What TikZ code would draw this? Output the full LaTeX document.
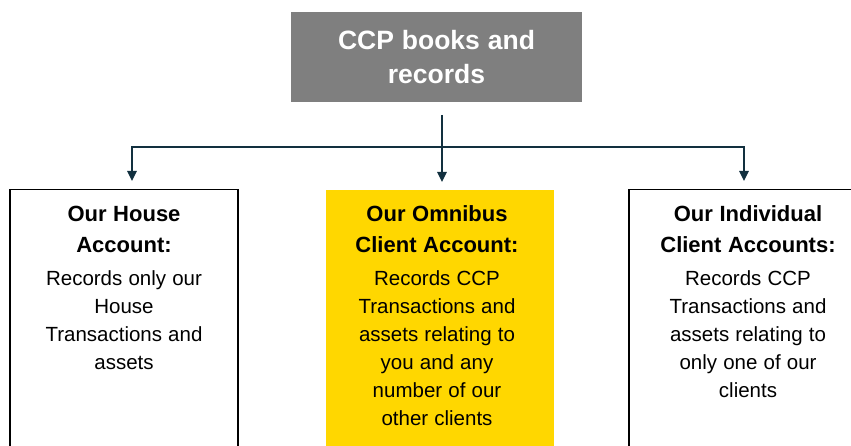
\documentclass[tikz,border=0pt]{standalone}
\usepackage{fontspec}
\setmainfont{Liberation Sans}
\usetikzlibrary{arrows.meta}
\definecolor{boxgray}{HTML}{7F7F7F}
\definecolor{omniyellow}{HTML}{FFD700}
\definecolor{linkteal}{HTML}{12303F}
\newcommand{\titlefont}{\bfseries\fontsize{26.5}{34}\selectfont\spaceskip=0.3em\relax}
\newcommand{\headfont}{\bfseries\fontsize{22}{31}\selectfont\spaceskip=0.3em\relax}
\newcommand{\bodyfont}{\fontsize{20.5}{28}\selectfont\spaceskip=0.3em\relax}
\begin{document}
\begin{tikzpicture}[x=1pt, y=-1pt,
    title/.style = {fill=boxgray, minimum width=291pt, minimum height=90pt, inner sep=0pt},
    acct/.style = {draw=black, line width=1.5pt, anchor=north, minimum width=228pt, minimum height=300pt, inner sep=0pt},
    acctext/.style = {anchor=base, text width=220pt, align=center, inner sep=0pt},
    link/.style = {draw=linkteal, line width=1.3pt, {Triangle[width=9.5pt,length=10pt]}-{Triangle[width=9.5pt,length=10pt]}},
    drop/.style = {draw=linkteal, line width=1.3pt, -{Triangle[width=9.5pt,length=10pt]}}]
    \useasboundingbox (0,0) rectangle (851,446);

    \node[title] (books) at (436.5,57) {};
    \node[acctext, text width=280pt, text=white] (bookstext) at (436.5,50)
        {\titlefont CCP books and\\records\par};

    \node[acct] (house) at (124,189) {};
    \node[acct, draw=none, fill=omniyellow] (omni) at (439.5,189) {};
    \node[acct] (indiv) at (743,189) {};

    \node[acctext] (housetext) at (124,222)
        {{\headfont Our House\\Account:\par}\vspace{5pt}
         \bodyfont Records only our\\House\\Transactions and\\assets\par};
    \node[acctext] (omnitext) at (437,222)
        {{\headfont Our Omnibus\\Client Account:\par}\vspace{5pt}
         \bodyfont Records CCP\\Transactions and\\assets relating to\\you and any\\number of our\\other clients\par};
    \node[acctext] (indivtext) at (748,222)
        {{\headfont Our Individual\\Client Accounts:\par}\vspace{5pt}
         \bodyfont Records CCP\\Transactions and\\assets relating to\\only one of our\\clients\par};

    % connectors
    \coordinate (trunk) at (442,115);
    \coordinate (fork) at (442,147);
    \coordinate (housetip) at (132,181);
    \coordinate (omnitip) at (442,182);
    \coordinate (indivtip) at (744,181);

    \draw[drop] (trunk) -- (omnitip);
    \draw[link] (housetip) -- (housetip |- fork) -- (indivtip |- fork) -- (indivtip);
\end{tikzpicture}
\end{document}
